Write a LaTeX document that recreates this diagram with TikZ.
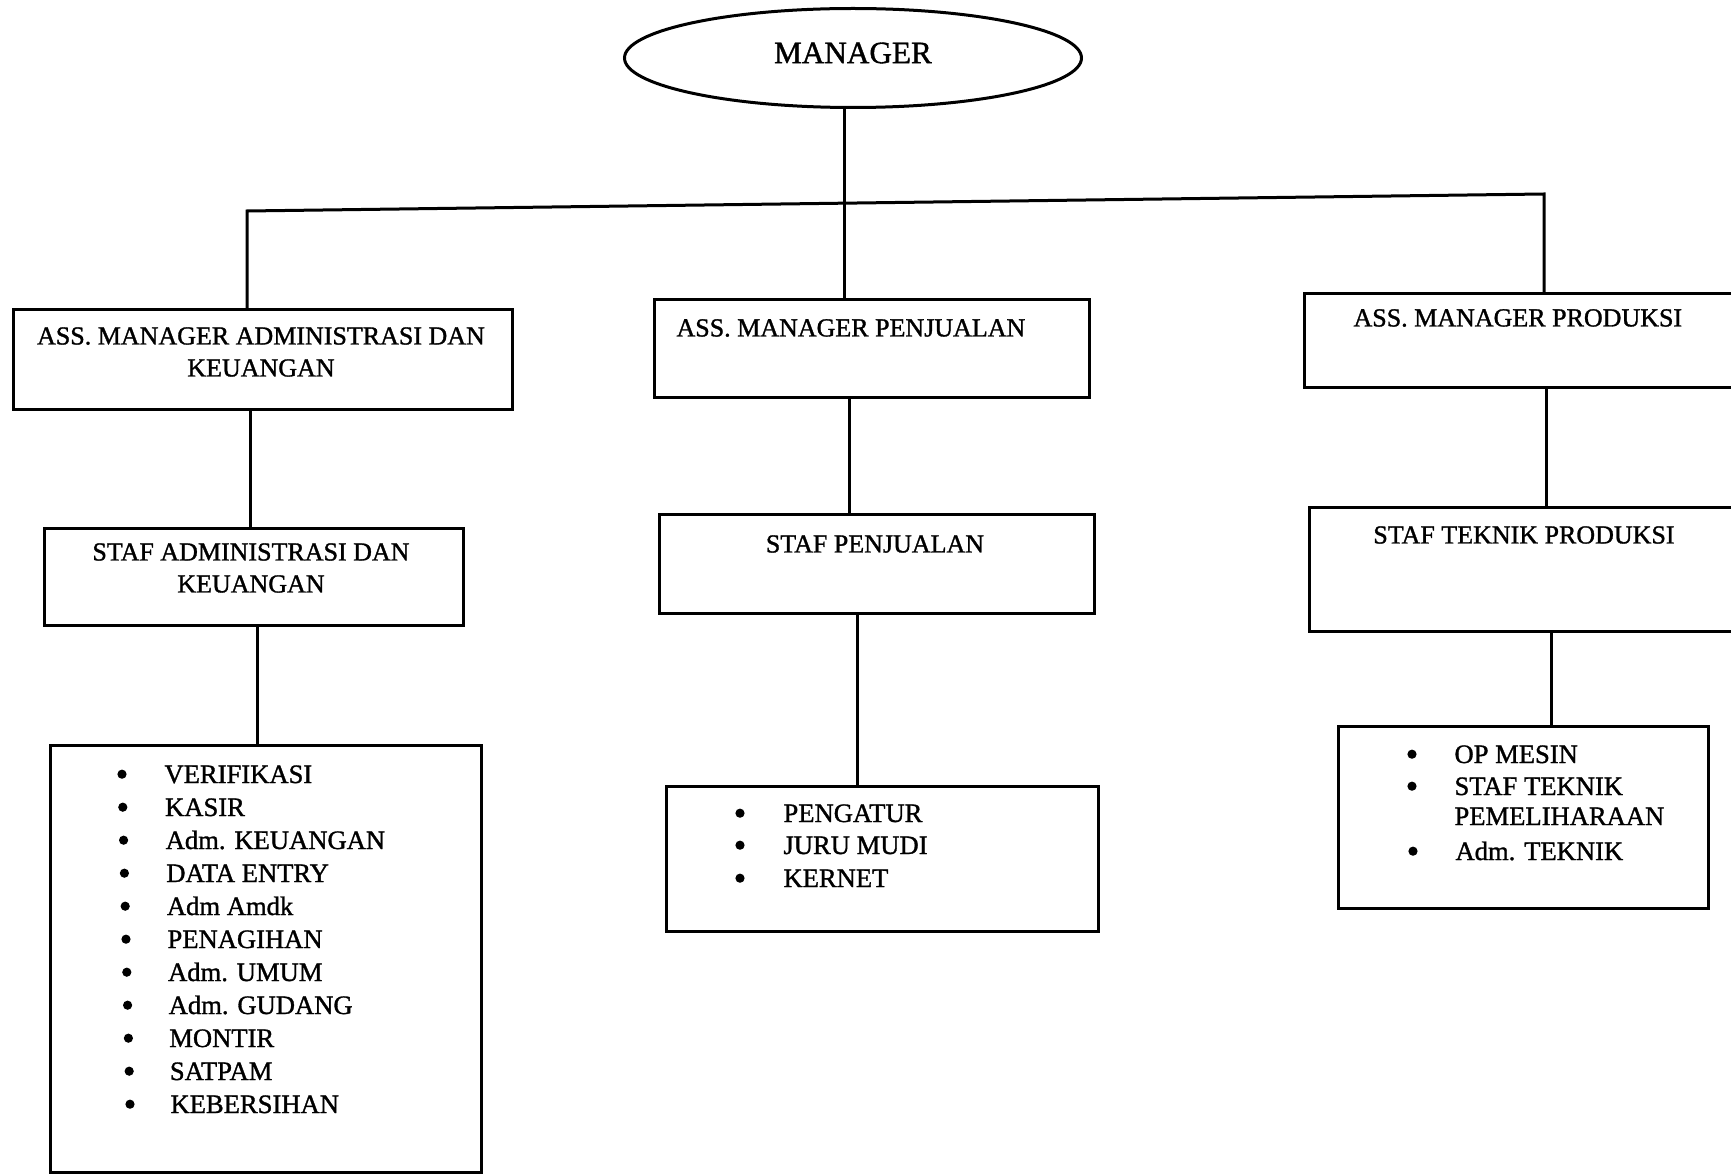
\documentclass[tikz,border=0pt]{standalone}
\usepackage{fontspec}
\setmainfont{Liberation Serif}[FakeBold=1.2]
\usetikzlibrary{shapes.geometric}
\begin{document}
\begin{tikzpicture}[x=0.5pt,y=-0.5pt,line width=1.5pt,
  box/.style={draw,rectangle,inner sep=0pt,anchor=north west},
  lbl/.style={inner sep=0pt,font=\fontsize{13}{16}\selectfont},
  itm/.style={inner sep=0pt,anchor=base west,font=\fontsize{13.3}{16}\selectfont},
  dot/.style={circle,fill,draw=none,inner sep=0pt,minimum size=4.6pt,yshift=4.4pt}]
\useasboundingbox (0,0) rectangle (1731,1176);
\fill[white] (0,0) rectangle (1731,1176);
\clip (0,0) rectangle (1731,1176);

% manager
\node[draw,ellipse,inner sep=0pt,minimum width={457*0.5pt},minimum height={99*0.5pt}] (mgr) at (853,58) {};
\node[inner sep=0pt,font=\fontsize{15.6}{18}\selectfont] (mgrt) at (853,53) {MANAGER};

% level 1
\node[box,minimum width={499*0.5pt},minimum height={100*0.5pt}] (a1) at (12,308) {};
\node[box,minimum width={435*0.5pt},minimum height={98*0.5pt}] (a2) at (653,298) {};
\node[box,minimum width={460*0.5pt},minimum height={94*0.5pt}] (a3) at (1303,292) {};
\node[lbl,align=center] (a1t) at (261,352) {ASS. MANAGER ADMINISTRASI DAN\\KEUANGAN};
\node[lbl,anchor=west] (a2t) at (675,328) {ASS. MANAGER PENJUALAN};
\node[lbl,anchor=west] (a3t) at (1352,318) {ASS. MANAGER PRODUKSI};

% level 2
\node[box,minimum width={419*0.5pt},minimum height={97*0.5pt}] (s1) at (43,527) {};
\node[box,minimum width={435*0.5pt},minimum height={99*0.5pt}] (s2) at (658,513) {};
\node[box,minimum width={460*0.5pt},minimum height={124*0.5pt}] (s3) at (1308,506) {};
\node[lbl,align=center] (s1t) at (251,568) {STAF ADMINISTRASI DAN\\KEUANGAN};
\node[lbl] (s2t) at (875,544) {STAF PENJUALAN};
\node[lbl] (s3t) at (1524,535) {STAF TEKNIK PRODUKSI};

% level 3
\node[box,minimum width={431*0.5pt},minimum height={427*0.5pt}] (l1) at (49,744) {};
\node[box,minimum width={432*0.5pt},minimum height={145*0.5pt}] (l2) at (665,785) {};
\node[box,minimum width={370*0.5pt},minimum height={182*0.5pt}] (l3) at (1337,725) {};

\foreach \t [count=\i from 0] in {VERIFIKASI,KASIR,Adm. KEUANGAN,DATA ENTRY,Adm Amdk,PENAGIHAN,Adm. UMUM,Adm. GUDANG,MONTIR,SATPAM,KEBERSIHAN}{
  \node[dot] (b1\i) at ({122+0.8*\i},{783+33*\i}) {};
  \node[itm] (t1\i) at ({163+0.6*\i},{783+33*\i}) {\t};
}
\foreach \t/\yy [count=\i from 0] in {PENGATUR/822,JURU MUDI/854,KERNET/887}{
  \node[dot] (b2\i) at (740,\yy) {};
  \node[itm] (t2\i) at (782,\yy) {\t};
}
\node[dot] (b30) at (1412,763) {};
\node[itm] (t30) at (1453,763) {OP MESIN};
\node[dot] (b31) at (1412,795) {};
\node[itm] (t31) at (1453,795) {STAF TEKNIK};
\node[itm] (t32) at (1453,825) {PEMELIHARAAN};
\node[dot] (b33) at (1413,860) {};
\node[itm] (t33) at (1454,860) {Adm. TEKNIK};

% connectors
\coordinate (bl) at (247,211);
\coordinate (bm) at (844,203);
\coordinate (br) at (1544,194);
\draw (bm |- mgr.south) -- (bm) -- (bm |- a2.north);
\draw (bl |- a1.north) -- (bl) -- (br) -- (br |- a3.north);
\coordinate (v1) at (250,0);
\coordinate (w1) at (257,0);
\coordinate (v2) at (849,0);
\coordinate (w2) at (857,0);
\coordinate (v3) at (1546,0);
\coordinate (w3) at (1551,0);
\draw (v1 |- a1.south) -- (v1 |- s1.north);
\draw (w1 |- s1.south) -- (w1 |- l1.north);
\draw (v2 |- a2.south) -- (v2 |- s2.north);
\draw (w2 |- s2.south) -- (w2 |- l2.north);
\draw (v3 |- a3.south) -- (v3 |- s3.north);
\draw (w3 |- s3.south) -- (w3 |- l3.north);
\end{tikzpicture}
\end{document}
